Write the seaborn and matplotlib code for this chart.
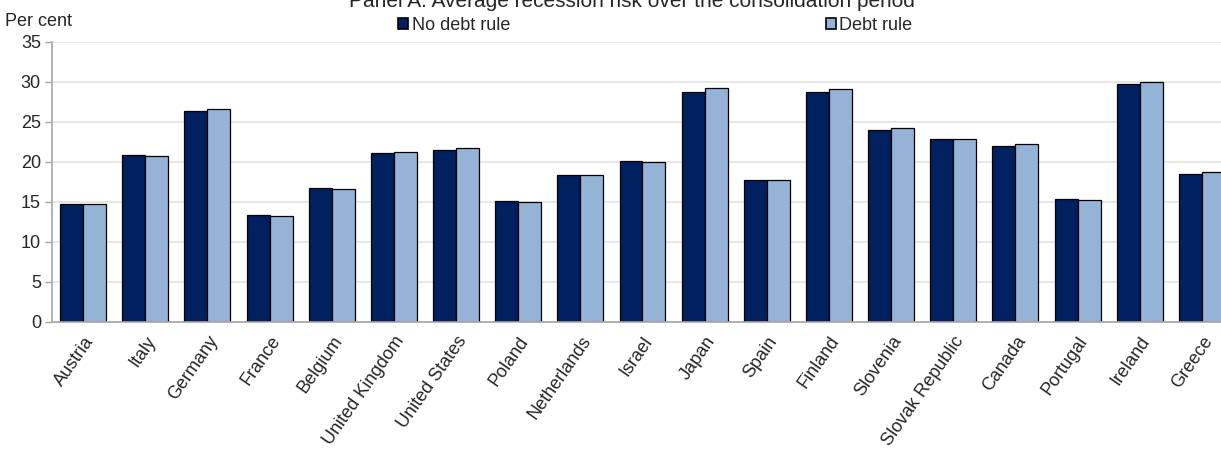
import numpy as np
import pandas as pd
import seaborn as sns
import matplotlib.pyplot as plt
from matplotlib.patches import Patch

# Data

countries = ["Austria", "Italy", "Germany", "France", "Belgium", "United Kingdom",
             "United States", "Poland", "Netherlands", "Israel", "Japan", "Spain",
             "Finland", "Slovenia", "Slovak Republic", "Canada", "Portugal",
             "Ireland", "Greece"]
no_debt_rule = [14.8, 20.9, 26.4, 13.4, 16.8, 21.1, 21.5, 15.1, 18.4, 20.1,
                28.7, 17.8, 28.8, 24.0, 22.9, 22.0, 15.4, 29.8, 18.5]
debt_rule = [14.7, 20.7, 26.6, 13.3, 16.6, 21.3, 21.7, 15.0, 18.4, 20.0,
             29.2, 17.8, 29.1, 24.2, 22.9, 22.2, 15.2, 30.0, 18.7]
series_names = ["No debt rule", "Debt rule"]
y_ticks = [0, 5, 10, 15, 20, 25, 30, 35]

df = pd.DataFrame({
    "country": countries * 2,
    "value": no_debt_rule + debt_rule,
    "series": [series_names[0]] * len(countries) + [series_names[1]] * len(countries),
})

sns.set_style("white")
plt.rcParams["font.family"] = ["Liberation Sans", "DejaVu Sans"]

W, H = 1221, 451
fig = plt.figure(figsize=(W / 100, H / 100), dpi=100)

# axes in pixel coordinates (right edge runs slightly past the figure, as in the reference)
left, right, top, bottom = 52, 1233, 42, 322
ax = fig.add_axes([left / W, 1 - bottom / H, (right - left) / W, (bottom - top) / H])

colors = {"No debt rule": "#002060", "Debt rule": "#95B3D7"}
sns.barplot(data=df, x="country", y="value", hue="series", palette=colors,
            saturation=1, width=0.74, gap=0, edgecolor="black", linewidth=0.9,
            legend=False, ax=ax)

ax.set_xlim(-0.5, len(countries) - 0.5)
ax.set_ylim(0, 35)
ax.set_yticks(y_ticks)
ax.yaxis.grid(True, color="#E3E3E3", linewidth=1.2)
ax.set_axisbelow(True)

ax.set_xlabel("")
ax.set_ylabel("")
ax.set_xticks(range(len(countries)))
ax.set_xticklabels(countries, rotation=55, ha="right", rotation_mode="anchor", fontsize=13)
ax.set_xticks(np.arange(len(countries)) - 0.5, minor=True)
ax.tick_params(axis="x", which="major", length=0, pad=8)
ax.tick_params(axis="x", which="minor", length=5, color="#A6A6A6", width=1)
ax.tick_params(axis="y", length=5, color="#A6A6A6", width=1, labelsize=13, pad=3,
               left=True)

for side in ["top", "right"]:
    ax.spines[side].set_visible(False)
for side in ["left", "bottom"]:
    ax.spines[side].set_color("#A6A6A6")
    ax.spines[side].set_linewidth(1.2)

# title (cut at the top edge like the reference), unit label, legend
fig.text(632 / W, 1 - 7 / H, "Panel A. Average recession risk over the consolidation period",
         ha="center", va="baseline", fontsize=15)
fig.text(5 / W, 1 - 22 / H, "Per cent", ha="left", va="center", fontsize=13)

handles = [Patch(facecolor=colors[s], edgecolor="black", linewidth=1.2) for s in series_names]
fig.legend(handles, series_names, loc="center left", bbox_to_anchor=(398 / W, 1 - 25 / H),
           ncol=2, frameon=False, fontsize=13, handlelength=0.55, handleheight=0.55,
           handletextpad=0.2, columnspacing=17.5, borderpad=0, borderaxespad=0)

fig.savefig("out.png", dpi=100)
